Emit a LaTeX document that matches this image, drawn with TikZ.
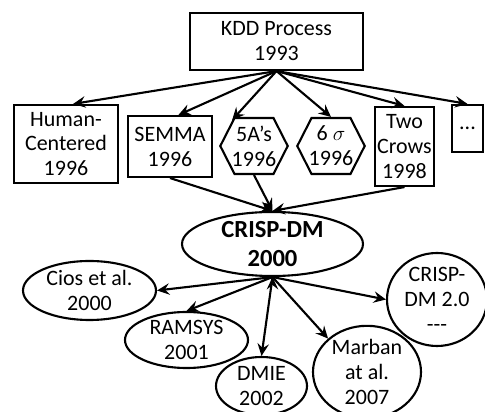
\documentclass[tikz,border=0pt]{standalone}
\usepackage{fontspec}
\setmainfont{Carlito}
\usepackage{tikz}
\usetikzlibrary{shapes.geometric, shapes.symbols, arrows.meta}
\tikzset{>={Stealth[length=7pt, width=6.5pt, inset=2.5pt]},
  every node/.style={font=\fontsize{12.5}{14.2}\selectfont, align=center, inner sep=1pt},
  box/.style={draw, rectangle},
  hexa/.style={draw, signal, signal to=west and east, signal pointer angle=126, inner xsep=-1.6pt, minimum height=1.12cm},
  oval/.style={draw, ellipse, inner sep=0pt},
}

\begin{document}
\begin{tikzpicture}[line width=1.2pt]
        \useasboundingbox (0,0) rectangle (9.7,-8.24);
        \node[box, minimum width=3.46cm, minimum height=1.14cm] at (5.53,-0.83) (kdd) {KDD Process\\1993};
        \node[box, minimum width=2.08cm, minimum height=1.56cm] at (1.32,-2.88) (human) {Human-\\Centered\\1996};
        \node[box, minimum width=1.68cm, minimum height=1.22cm] at (3.40,-2.93) (semma) {SEMMA\\1996};
        \node[hexa] at (5.08,-2.92) (fivea) {5A’s\\1996};
        \node[hexa] at (6.62,-2.92) (sixsigma) {6 $\sigma$\\1996};
        \node[box, minimum width=1.18cm, minimum height=1.58cm] at (8.09,-2.93) (twocrows) {Two\\Crows\\1998};
        \node[box, minimum width=0.62cm, minimum height=0.94cm] at (9.35,-2.57) (more) {...};

        \node[oval, minimum width=3.62cm, minimum height=1.16cm,
              font=\fontsize{14}{16.5}\selectfont\bfseries] at (5.45,-4.88) (crisp) {CRISP-DM\\2000};
        \node[oval, minimum width=2.66cm, minimum height=1.18cm] at (1.79,-5.81) (cios) {Cios et al.\\2000};
        \node[oval, minimum width=2.46cm, minimum height=1.12cm] at (3.73,-6.80) (ramsys) {RAMSYS\\2001};
        \node[oval, minimum width=1.82cm, minimum height=1.16cm] at (5.23,-7.72) (dmie) {DMIE\\2002};
        \node[oval, minimum width=2.16cm, minimum height=1.7cm] at (7.34,-7.44) (marban) {Marban\\at al.\\2007};
        \node[oval, minimum width=2.0cm, minimum height=1.86cm] at (8.74,-5.99) (crisptwo) {CRISP-\\DM 2.0\\-{}-{}-};

        \draw[->] (kdd.south) edge (human.80)
                  (kdd.south) edge (semma.75)
                  (kdd.south) edge (fivea.130)
                  (kdd.south) edge (sixsigma.north)
                  (kdd.south) edge (twocrows.north)
                  (kdd.south) edge (more.north)
                  (semma.south) edge (crisp.north)
                  (fivea.south) edge (crisp.north)
                  (twocrows.south) edge (crisp.north)
                  (crisp.south) edge (cios.east)
                  (crisp.south) edge (ramsys.north)
                  (crisp.south) edge (dmie.north)
                  (crisp.south) edge (marban.north west)
                  (crisp.south) edge (crisptwo.west);
    \end{tikzpicture}
\end{document}
